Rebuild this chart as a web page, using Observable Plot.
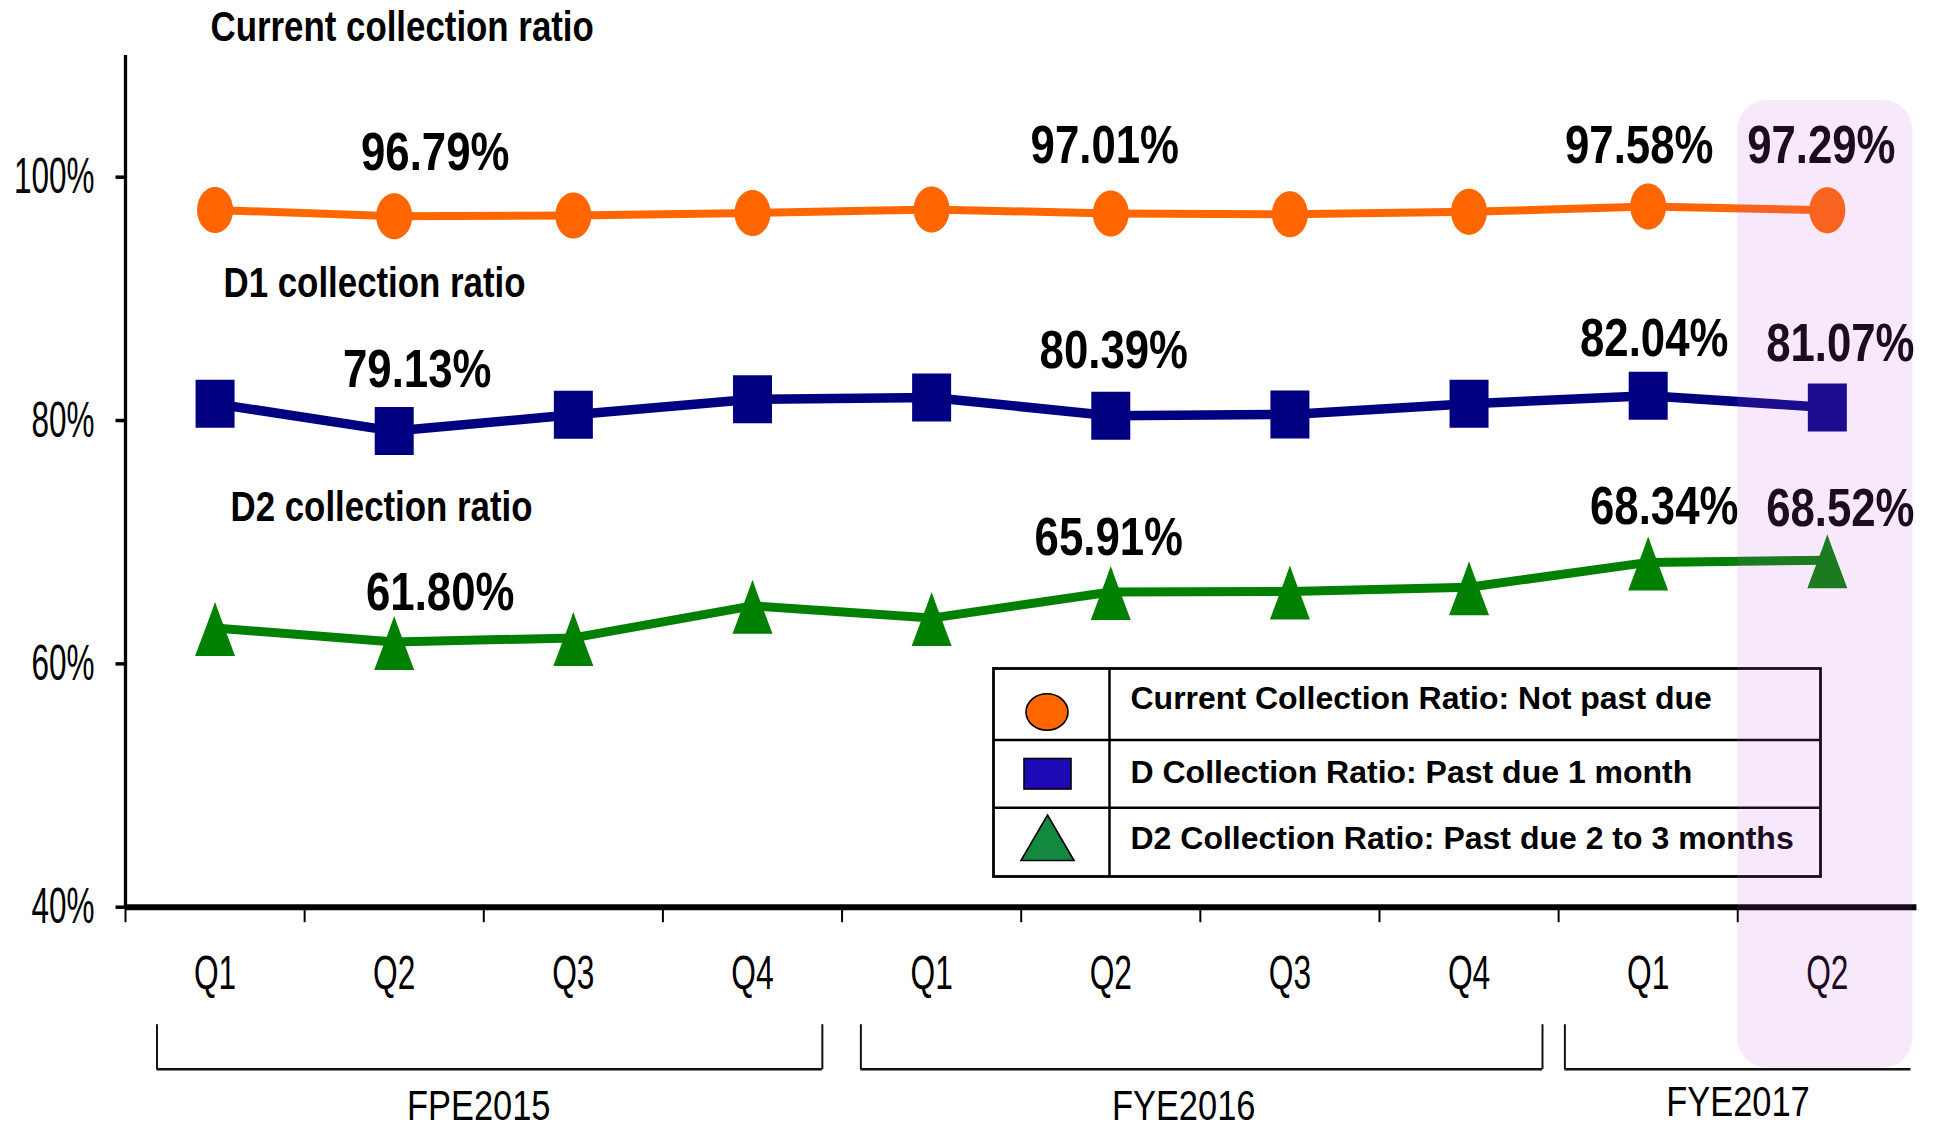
<!DOCTYPE html>
<html>
<head>
<meta charset="utf-8">
<script src="https://cdn.jsdelivr.net/npm/d3@7"></script>
<script src="https://cdn.jsdelivr.net/npm/@observablehq/plot@0.6"></script>
<style>
  body { margin: 0; background: #fff; }
  #chart svg { display: block; }
</style>
</head>
<body>
<div id="chart"></div>
<script>
// ---------------- data ----------------
const quarters = ["Q1", "Q2", "Q3", "Q4", "Q1", "Q2", "Q3", "Q4", "Q1", "Q2"];
const fiscalYears = ["FPE2015", "FYE2016", "FYE2017"];
const fiscalFirstQuarter = [0, 4, 8];
const fiscalLastQuarter = [3, 7, 9];
const currentRatio = [97.30, 96.79, 96.85, 97.05, 97.35, 97.01, 96.95, 97.15, 97.58, 97.29];
const d1Ratio      = [81.38, 79.13, 80.48, 81.75, 81.89, 80.39, 80.50, 81.38, 82.04, 81.07];
const d2Ratio      = [62.95, 61.80, 62.13, 64.77, 63.76, 65.91, 65.95, 66.30, 68.34, 68.52];
const seriesTitles = ["Current collection ratio", "D1 collection ratio", "D2 collection ratio"];
const legendLabels = [
  "Current Collection Ratio: Not past due",
  "D Collection Ratio: Past due 1 month",
  "D2 Collection Ratio: Past due 2 to 3 months"
];
const labelledQuarters = [1, 5, 8, 9];
const yTicks = [40, 60, 80, 100];
const highlightQuarter = 9;

// ---------------- layout / style ----------------
const FONT = "'Liberation Sans', Arial, Helvetica, sans-serif";
const colors = ["#FF6600", "#000080", "#008000"];
const lineWidths = [8, 9.5, 9];
// label nudges [dx, dy] in px for each labelled quarter, per series
const labelNudges = [
  [[41, -64], [-6, -68], [-9, -61], [-6, -64]],
  [[23, -61], [3, -65], [6, -57], [13, -64]],
  [[46, -49], [-2, -54], [16, -56], [13, -51]]
];
const titleOffsets = [[85, -28], [98, 228], [105, 452]];
const bracketInsets = [[0.176, 0.11], [0.105, 0.09], [0.035, 0.033]];
const groupLabelNudges = [[-11, 199], [-18, 199], [0, 195]];
// font-size|weight -> horizontal condensing factor
const condense = {"50|": 0.63, "48|": 0.66, "42|": 0.82, "54|bold": 0.81, "42|bold": 0.83};

// custom marker shapes
const ellipseSym = { draw(ctx) {
  const rx = 18, ry = 23, k = 0.5523;
  ctx.moveTo(0, -ry);
  ctx.bezierCurveTo(k * rx, -ry, rx, -k * ry, rx, 0);
  ctx.bezierCurveTo(rx, k * ry, k * rx, ry, 0, ry);
  ctx.bezierCurveTo(-k * rx, ry, -rx, k * ry, -rx, 0);
  ctx.bezierCurveTo(-rx, -k * ry, -k * rx, -ry, 0, -ry);
  ctx.closePath();
}};
const squareSym = { draw(ctx) {
  const hw = 19.5, hh = 24;
  ctx.moveTo(-hw, -hh); ctx.lineTo(hw, -hh); ctx.lineTo(hw, hh); ctx.lineTo(-hw, hh); ctx.closePath();
}};
const triangleSym = { draw(ctx) {
  ctx.moveTo(0, -26); ctx.lineTo(5, -12); ctx.lineTo(20, 28); ctx.lineTo(-20, 28); ctx.lineTo(-5, -12); ctx.closePath();
}};
const hTickSym = { draw(ctx) { ctx.moveTo(-10, 0); ctx.lineTo(0, 0); } };
const vTickDown = { draw(ctx) { ctx.moveTo(0, 0); ctx.lineTo(0, 15); } };
const vTickUp = { draw(ctx) { ctx.moveTo(0, -45); ctx.lineTo(0, 0); } };
const symbols = [ellipseSym, squareSym, triangleSym];
const seriesValues = [currentRatio, d1Ratio, d2Ratio];

const idx = d3.range(quarters.length);
const groups = fiscalYears.map((name, g) => ({
  name,
  x1: fiscalFirstQuarter[g] - 0.5 + bracketInsets[g][0],
  x2: fiscalLastQuarter[g] + 0.5 - bracketInsets[g][1],
  hasRightEnd: g < fiscalYears.length - 1
}));

const marks = [];

// axes lines
marks.push(Plot.ruleX([-0.5], {y1: 40, y2: 110, stroke: "#000", strokeWidth: 3.3}));
marks.push(Plot.ruleY([40], {x1: -0.5, x2: 9.5, stroke: "#000", strokeWidth: 6}));
marks.push(Plot.dot(yTicks, {x: -0.5, y: d => d, symbol: hTickSym, r: 5, stroke: "#000", strokeWidth: 3.5, fill: "none"}));
marks.push(Plot.dot(idx.map(i => i - 0.5), {x: d => d, y: 40, symbol: vTickDown, r: 5, stroke: "#000", strokeWidth: 2, fill: "none"}));
marks.push(Plot.text(yTicks, {x: -0.5, y: d => d, text: d => d + "%", textAnchor: "end", dx: -31, lineAnchor: "middle",
  fontSize: 50, fontFamily: FONT, fill: "#000"}));
marks.push(Plot.text(idx, {x: i => i, y: 40, text: i => quarters[i], dy: 66, lineAnchor: "middle",
  fontSize: 48, fontFamily: FONT, fill: "#000"}));

// fiscal-year brackets
marks.push(Plot.ruleY(groups, {x1: "x1", x2: "x2", y: 40, dy: 162, stroke: "#111", strokeWidth: 2.5}));
marks.push(Plot.dot(groups, {x: "x1", y: 40, dy: 162, symbol: vTickUp, r: 5, stroke: "#111", strokeWidth: 2, fill: "none"}));
marks.push(Plot.dot(groups.filter(g => g.hasRightEnd), {x: "x2", y: 40, dy: 162, symbol: vTickUp, r: 5, stroke: "#111", strokeWidth: 2, fill: "none"}));
groups.forEach((g, k) => {
  marks.push(Plot.text([g], {x: d => (d.x1 + d.x2) / 2, y: 40, text: "name",
    dx: groupLabelNudges[k][0], dy: groupLabelNudges[k][1], lineAnchor: "middle",
    fontSize: 42, fontFamily: FONT, fill: "#000"}));
});

// series
seriesValues.forEach((vals, s) => {
  marks.push(Plot.line(idx, {x: i => i, y: i => vals[i], stroke: colors[s], strokeWidth: lineWidths[s], strokeLinejoin: "round"}));
  marks.push(Plot.dot(idx, {x: i => i, y: i => vals[i], symbol: symbols[s], r: 22, fill: colors[s], stroke: "none"}));
  labelledQuarters.forEach((q, k) => {
    marks.push(Plot.text([q], {x: i => i, y: i => vals[i], text: i => vals[i].toFixed(2) + "%",
      dx: labelNudges[s][k][0], dy: labelNudges[s][k][1], lineAnchor: "middle",
      fontSize: 54, fontWeight: "bold", fontFamily: FONT, fill: "#000"}));
  });
  marks.push(Plot.text([seriesTitles[s]], {frameAnchor: "top-left", text: d => d, textAnchor: "start", lineAnchor: "middle",
    dx: titleOffsets[s][0], dy: titleOffsets[s][1], fontSize: 42, fontWeight: "bold", fontFamily: FONT, fill: "#000"}));
});

// highlight of the latest quarter (drawn on top, last mark)
marks.push(Plot.rect([highlightQuarter], {x1: q => q - 0.5, x2: q => q + 0.5, y1: 40, y2: 110,
  insetTop: 45, insetBottom: -161, insetRight: 4, rx: 30,
  fill: "rgb(204,87,233)", fillOpacity: 0.137}));

const chart = Plot.plot({
  width: 1933,
  height: 1130,
  marginLeft: 125,
  marginRight: 16.6,
  marginTop: 55,
  marginBottom: 223.3,
  x: {type: "linear", domain: [-0.5, 9.5], axis: null},
  y: {type: "linear", domain: [40, 110], axis: null},
  style: {background: "white", overflow: "visible", fontFamily: FONT},
  marks
});

// horizontal condensing of text (condensed typeface look)
chart.querySelectorAll("g[font-size]").forEach(g => {
  const key = g.getAttribute("font-size") + "|" + (g.getAttribute("font-weight") || "");
  const sx = condense[key];
  if (!sx) return;
  g.querySelectorAll("text").forEach(t => {
    let tr = t.getAttribute("transform");
    if (!tr) {
      const x = t.getAttribute("x") || 0, y = t.getAttribute("y") || 0;
      tr = `translate(${x},${y})`;
      t.removeAttribute("x"); t.removeAttribute("y");
    }
    t.setAttribute("transform", tr + ` scale(${sx},1)`);
  });
});

// legend (table style), inserted beneath the highlight overlay (last element)
const highlightNode = chart.lastElementChild;
const lg = d3.select(chart).insert("g", () => highlightNode);
lg.attr("text-anchor", "start");
const L = {x0: 993.5, x1: 1820.5, y0: 668.5, y1: 876.5, div: 1109.5, rows: [740, 807.7]};
lg.append("rect").attr("x", L.x0).attr("y", L.y0).attr("width", L.x1 - L.x0).attr("height", L.y1 - L.y0)
  .attr("fill", "none").attr("stroke", "#000").attr("stroke-width", 2.8);
lg.append("line").attr("x1", L.div).attr("x2", L.div).attr("y1", L.y0).attr("y2", L.y1).attr("stroke", "#000").attr("stroke-width", 2.5);
L.rows.forEach(y => lg.append("line").attr("x1", L.x0).attr("x2", L.x1).attr("y1", y).attr("y2", y).attr("stroke", "#000").attr("stroke-width", 2.5));
lg.append("ellipse").attr("cx", 1047).attr("cy", 712).attr("rx", 21).attr("ry", 18.3)
  .attr("fill", "#FF6600").attr("stroke", "#000").attr("stroke-width", 1.6);
lg.append("rect").attr("x", 1024).attr("y", 758.5).attr("width", 47).attr("height", 30.5)
  .attr("fill", "#1E0AB4").attr("stroke", "#000").attr("stroke-width", 1.6);
lg.append("path").attr("d", "M1047.5,815 L1074,860.5 L1021,860.5 Z")
  .attr("fill", "#13883F").attr("stroke", "#000").attr("stroke-width", 1.6);
const textY = [697.5, 771.7, 838];
legendLabels.forEach((t, i) => lg.append("text").attr("x", 1130.5).attr("y", textY[i]).attr("dy", "0.35em")
  .attr("text-anchor", "start")
  .attr("font-family", FONT).attr("font-weight", "bold").attr("font-size", 32).attr("fill", "#000").text(t));

document.getElementById("chart").appendChild(chart);
</script>
</body>
</html>
